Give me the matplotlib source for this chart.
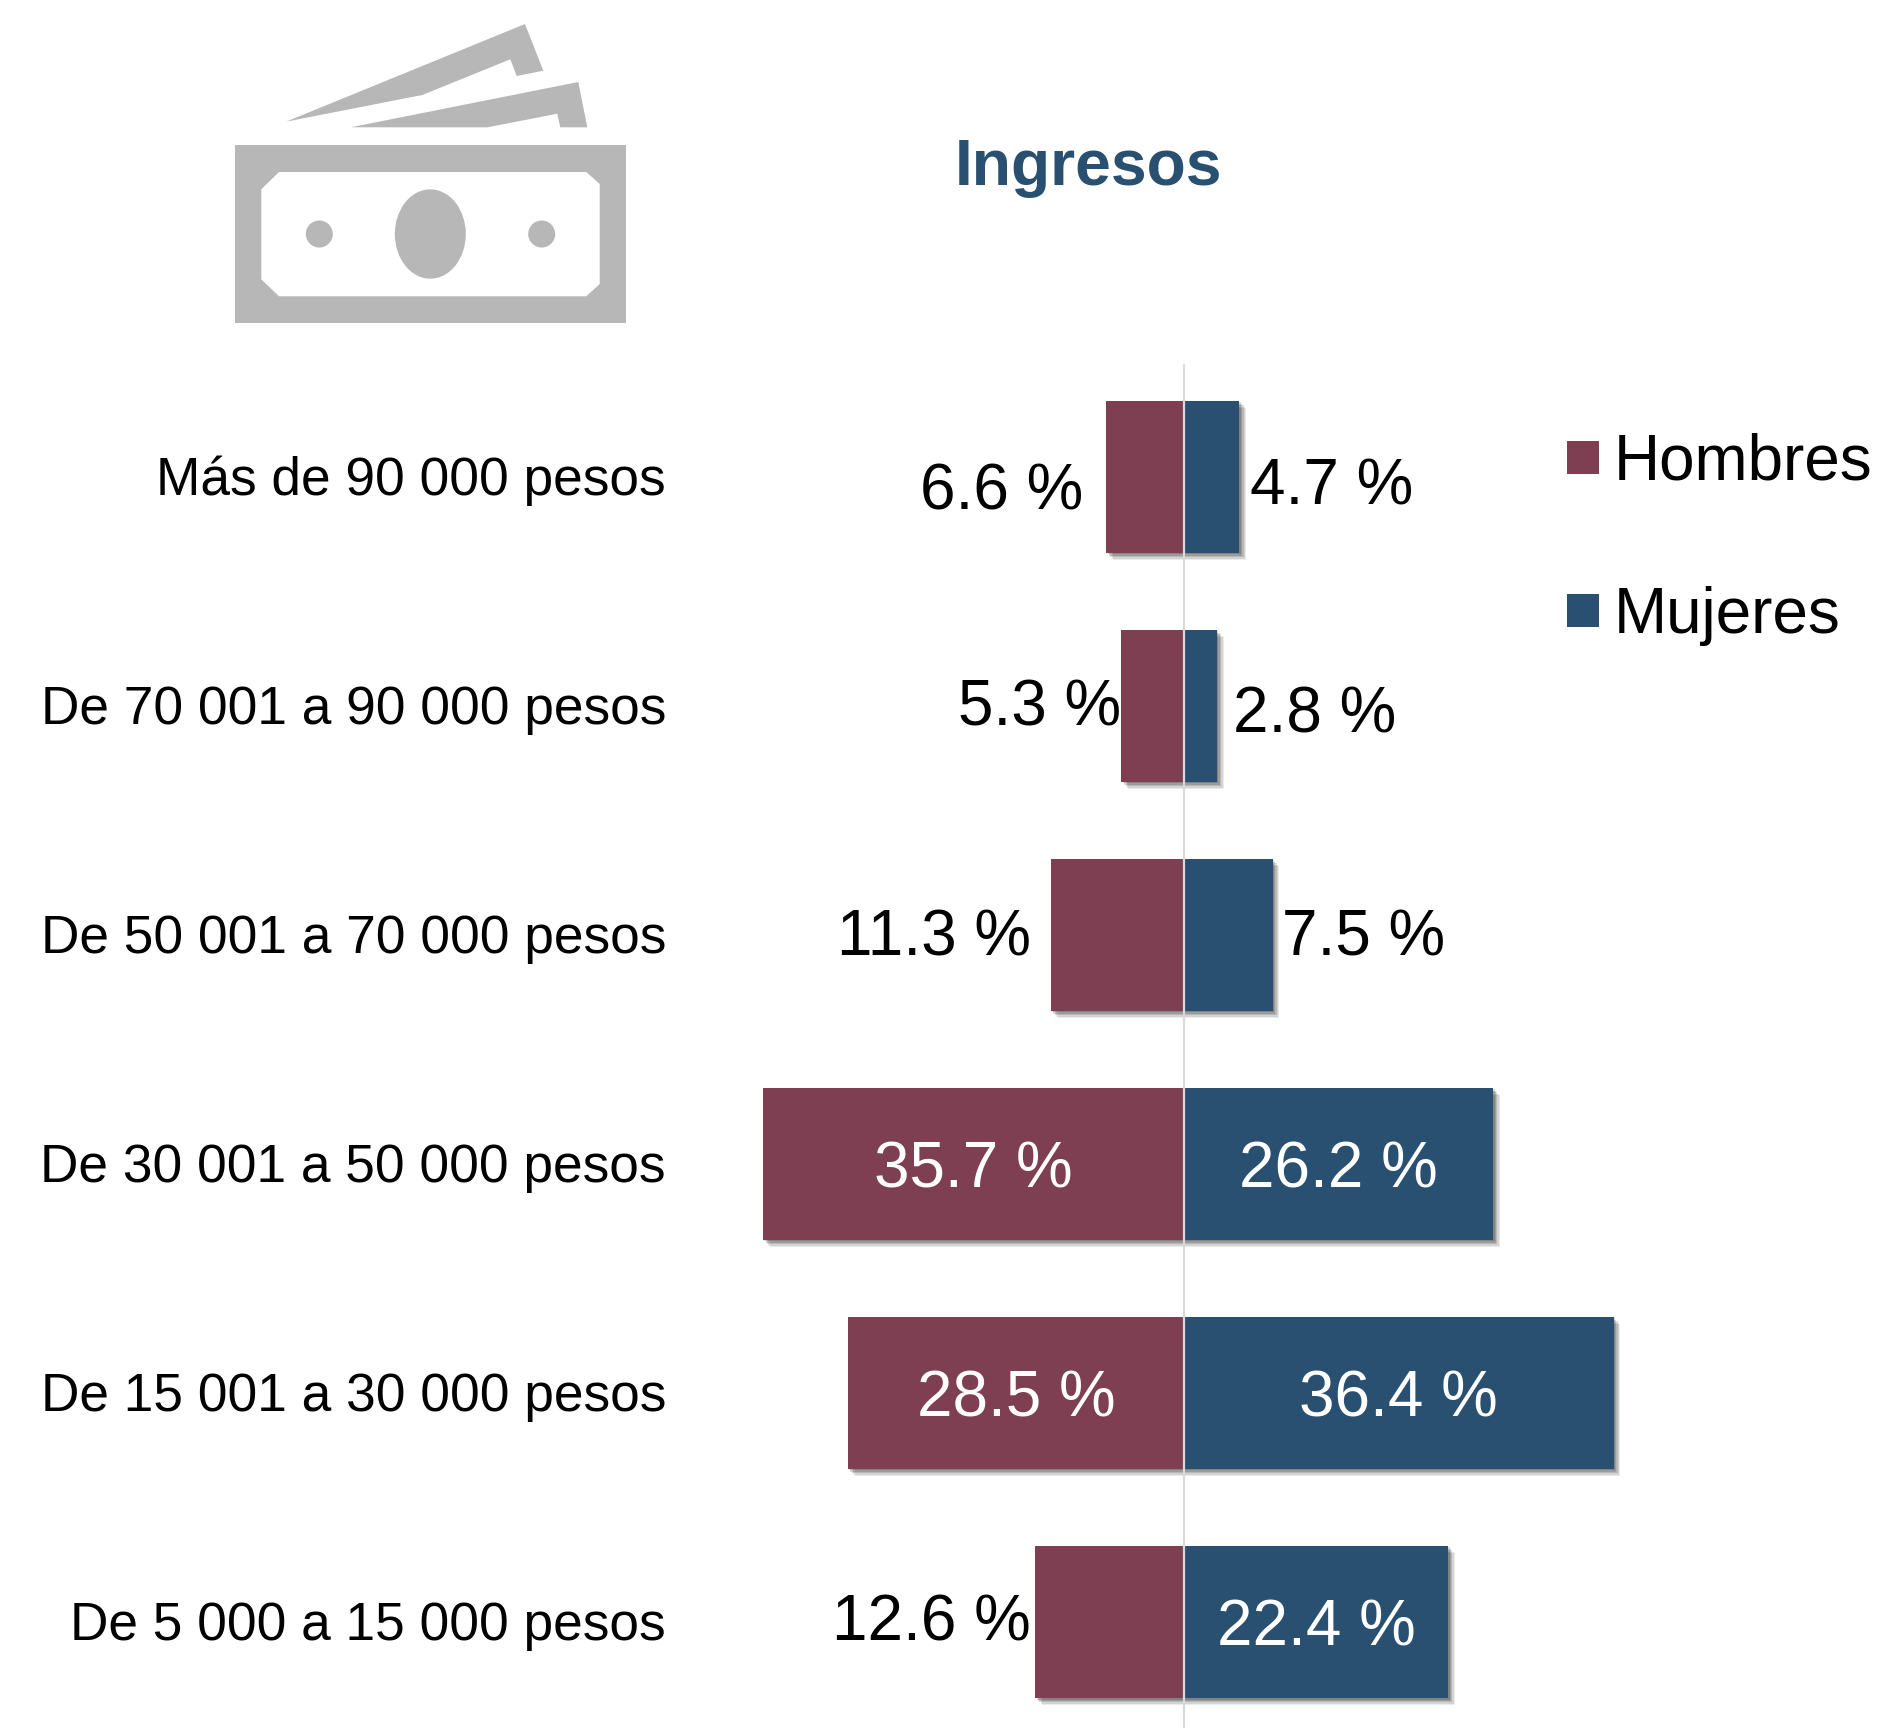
import matplotlib
matplotlib.use('Agg')
import matplotlib.pyplot as plt
import matplotlib.patheffects as pe
from matplotlib.patches import Patch, Polygon, Ellipse, Rectangle

plt.rcParams['font.family'] = ['Liberation Sans', 'DejaVu Sans']

# Data
categories = ['Más de 90 000 pesos', 'De 70 001 a 90 000 pesos', 'De 50 001 a 70 000 pesos',
              'De 30 001 a 50 000 pesos', 'De 15 001 a 30 000 pesos', 'De 5 000 a 15 000 pesos']
hombres = [6.6, 5.3, 11.3, 35.7, 28.5, 12.6]
mujeres = [4.7, 2.8, 7.5, 26.2, 36.4, 22.4]

W, H = 1884, 1728
MAROON = '#7F3F52'
BLUE = '#2A5071'
GRAY = '#B7B7B7'

fig = plt.figure(figsize=(W / 100, H / 100), dpi=100, facecolor='white')

# Chart axes: 11.8 px per percentage point, zero at x=1184 px
ax = fig.add_axes([700 / W, 0, 1 - 700 / W, (H - 364) / H])
ax.set_xlim((700 - 1184) / 11.8, (W - 1184) / 11.8)
ax.set_ylim(5.4625, -0.4935)
for s in ax.spines.values():
    s.set_visible(False)
ax.set_xticks([])
ypos = list(range(len(categories)))
ax.set_yticks(ypos)
ax.set_yticklabels(categories, fontsize=38.35, color='black')
ax.tick_params(axis='y', length=0, pad=24.5)
for lab in ax.get_yticklabels():
    lab.set_va('center')
    lab.set_transform(lab.get_transform() + matplotlib.transforms.ScaledTranslation(0, -3.5 / 100, fig.dpi_scale_trans))

shadow = [pe.SimplePatchShadow(offset=(o, -o), shadow_rgbFace='black', alpha=a)
          for o, a in [(5.0, 0.08), (4.0, 0.10), (3.0, 0.13), (2.0, 0.15), (1.0, 0.15)]] + [pe.Normal()]

bars_h = ax.barh(ypos, [-v for v in hombres], height=0.664, color=MAROON, zorder=2)
bars_m = ax.barh(ypos, mujeres, height=0.664, color=BLUE, zorder=2)
for b in list(bars_h) + list(bars_m):
    b.set_path_effects(shadow)
ax.axvline(0, color='#D9D9D9', lw=1.6, zorder=3)


def label(x, y, txt, dx, dy, ha, color):
    ax.annotate(txt, xy=(x, y), xytext=(dx, -dy), textcoords='offset pixels', ha=ha, va='center',
                fontsize=45.9, color=color, zorder=4)


# Offsets in px from the bar end (outside) or bar middle (inside)
off_h = [(-23, 15), (0, 2), (-20, 3), None, None, (-5, 1)]
off_m = [(11, 10), (16, 9), (9, 3), None, None, None]
for i in ypos:
    if off_h[i]:
        label(-hombres[i], i, f'{hombres[i]} %', off_h[i][0], off_h[i][1], 'right', 'black')
    else:
        label(-hombres[i] / 2, i, f'{hombres[i]} %', 0, 6, 'center', 'white')
    if off_m[i]:
        label(mujeres[i], i, f'{mujeres[i]} %', off_m[i][0], off_m[i][1], 'left', 'black')
    else:
        label(mujeres[i] / 2, i, f'{mujeres[i]} %', 0, 6, 'center', 'white')

fig.legend(handles=[Patch(facecolor=MAROON, lw=0, label='Hombres'), Patch(facecolor=BLUE, lw=0, label='Mujeres')],
           loc='upper left', bbox_to_anchor=(1567 / W, 1 - 433 / H), frameon=False, fontsize=45.9,
           handlelength=0.5, handleheight=0.42, handletextpad=0.24, borderpad=0, borderaxespad=0,
           labelspacing=1.465)

fig.text(1088.5 / W, 1 - 168 / H, 'Ingresos', fontsize=46.2, fontweight='bold', color=BLUE,
         ha='center', va='center')

# Banknote icon, drawn in figure pixels
icon = fig.add_axes([0, 0, 1, 1], zorder=-1)
icon.set_xlim(0, W)
icon.set_ylim(H, 0)
icon.axis('off')
icon.add_patch(Polygon([(286, 121.7), (525, 24), (543.3, 70.7), (516.7, 76), (510.3, 59.3), (422.3, 95)],
                       color=GRAY, lw=0))
icon.add_patch(Polygon([(350.7, 127.3), (578.3, 82), (587.3, 127.3), (560.3, 127.3), (557.3, 113.7), (487.7, 127.3)],
                       color=GRAY, lw=0))
icon.add_patch(Rectangle((234.7, 145), 391.6, 178, color=GRAY, lw=0))
icon.add_patch(Polygon([(279, 172), (586.3, 172), (599.7, 184), (599.7, 284), (586.3, 296.3), (279, 296.3),
                        (261.3, 279.3), (261.3, 189.3)], color='white', lw=0))
icon.add_patch(Ellipse((430.3, 234), 71, 89.3, color=GRAY, lw=0))
icon.add_patch(Ellipse((319.3, 234), 27, 27, color=GRAY, lw=0))
icon.add_patch(Ellipse((541.7, 234), 27, 27, color=GRAY, lw=0))

fig.savefig('out.png', dpi=100, facecolor='white')
